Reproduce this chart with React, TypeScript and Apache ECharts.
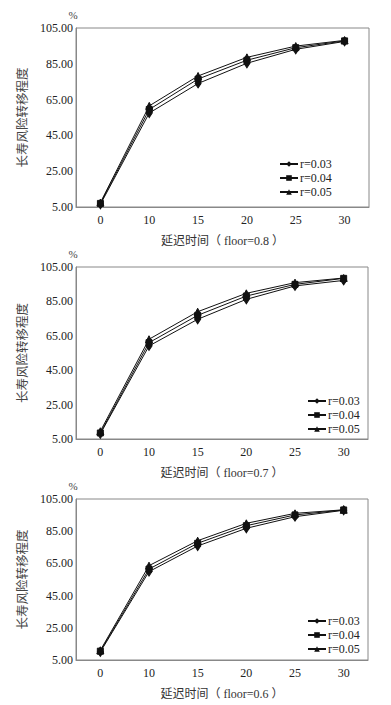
import React, { useEffect, useRef } from "react";
import * as echarts from "echarts";

const categories = ["0", "10", "15", "20", "25", "30"];
const seriesNames = ["r=0.03", "r=0.04", "r=0.05"];
const floorLabels = ["延迟时间（ floor=0.8 ）", "延迟时间（ floor=0.7 ）", "延迟时间（ floor=0.6 ）"];

// floor = 0.8
const f08_r003 = [6.5, 57.5, 74.0, 85.3, 93.1, 97.5];
const f08_r004 = [7.0, 59.5, 76.5, 87.0, 94.0, 97.8];
const f08_r005 = [7.5, 61.5, 78.2, 88.6, 94.9, 98.1];
// floor = 0.7
const f07_r003 = [8.0, 59.1, 74.6, 86.2, 94.0, 97.2];
const f07_r004 = [8.5, 61.0, 76.9, 88.1, 94.9, 98.4];
const f07_r005 = [9.5, 63.0, 79.0, 89.7, 95.9, 98.6];
// floor = 0.6
const f06_r003 = [10.0, 59.9, 75.8, 86.8, 94.0, 98.0];
const f06_r004 = [10.5, 61.5, 77.5, 88.4, 95.1, 98.2];
const f06_r005 = [11.0, 63.6, 79.1, 89.9, 96.1, 98.3];

const panels = [
  [f08_r003, f08_r004, f08_r005],
  [f07_r003, f07_r004, f07_r005],
  [f06_r003, f06_r004, f06_r005],
];

const FONT = "'Liberation Serif', 'Noto Sans CJK SC', serif";
const symbols = ["diamond", "rect", "triangle"];
const symbolSizes: any[] = [[6, 9], 6, 7];

const grids = [
  { left: 76, top: 28, width: 293, height: 179 },
  { left: 76, top: 267, width: 292, height: 172 },
  { left: 76, top: 499, width: 292, height: 161 },
];
const legendPos = [
  { left: 279, top: 158 },
  { left: 307, top: 395 },
  { left: 307, top: 615 },
];

export default function App() {
  const ref = useRef<HTMLDivElement>(null);
  useEffect(() => {
    if (!ref.current) return;
    const chart = echarts.init(ref.current, null, { renderer: "svg" });
    const frame = "#888";
    const option: any = {
      animation: false,
      backgroundColor: "#fff",
      grid: grids.map((g) => ({ ...g, show: true, borderColor: frame, borderWidth: 1, backgroundColor: "transparent" })),
      xAxis: grids.map((_, i) => ({
        type: "category",
        gridIndex: i,
        data: categories,
        boundaryGap: true,
        axisLine: { lineStyle: { color: frame, width: 1 } },
        axisTick: { inside: true, length: 4, lineStyle: { color: "#555" } },
        axisLabel: { fontFamily: FONT, fontSize: 12, color: "#222", margin: 7 },
        name: floorLabels[i],
        nameLocation: "middle",
        nameGap: 28,
        nameTextStyle: { fontFamily: FONT, fontSize: 12, color: "#333" },
      })),
      yAxis: grids.map((_, i) => ({
        type: "value",
        gridIndex: i,
        min: 5,
        max: 105,
        interval: 20,
        splitLine: { show: false },
        axisLine: { show: true, lineStyle: { color: frame, width: 1 } },
        axisTick: { show: false },
        axisLabel: {
          fontFamily: FONT,
          fontSize: 12,
          color: "#222",
          margin: 3,
          formatter: (v: number) => v.toFixed(2),
        },
        name: "长寿风险转移程度",
        nameLocation: "middle",
        nameRotate: 90,
        nameGap: 43,
        nameTextStyle: { fontFamily: FONT, fontSize: 12.5, color: "#444" },
      })),
      legend: grids.map((_, i) => ({
        orient: "vertical",
        left: legendPos[i].left,
        top: legendPos[i].top,
        data: seriesNames,
        itemWidth: 18,
        itemHeight: 7,
        itemGap: 2,
        padding: 0,
        selectedMode: false,
        textStyle: { fontFamily: FONT, fontSize: 12, color: "#222", padding: [0, 0, 0, -3] },
      })),
      graphic: grids.map((g) => ({
        type: "text",
        x: g.left - 3,
        y: g.top - 13,
        style: { text: "%", font: `11px ${FONT}`, fill: "#444", align: "center", verticalAlign: "middle" },
      })),
      series: panels.flatMap((arrs, gi) =>
        arrs.map((data, si) => ({
          type: "line",
          name: seriesNames[si],
          xAxisIndex: gi,
          yAxisIndex: gi,
          data,
          symbol: symbols[si],
          symbolSize: symbolSizes[si],
          showSymbol: true,
          lineStyle: { color: "#111", width: 1 },
          itemStyle: { color: "#111", borderColor: "#111" },
        }))
      ),
    };
    chart.setOption(option);
    return () => chart.dispose();
  }, []);
  return (
    <div
      ref={ref}
      style={{ position: "absolute", left: 0, top: 0, width: 391, height: 705 }}
    />
  );
}
